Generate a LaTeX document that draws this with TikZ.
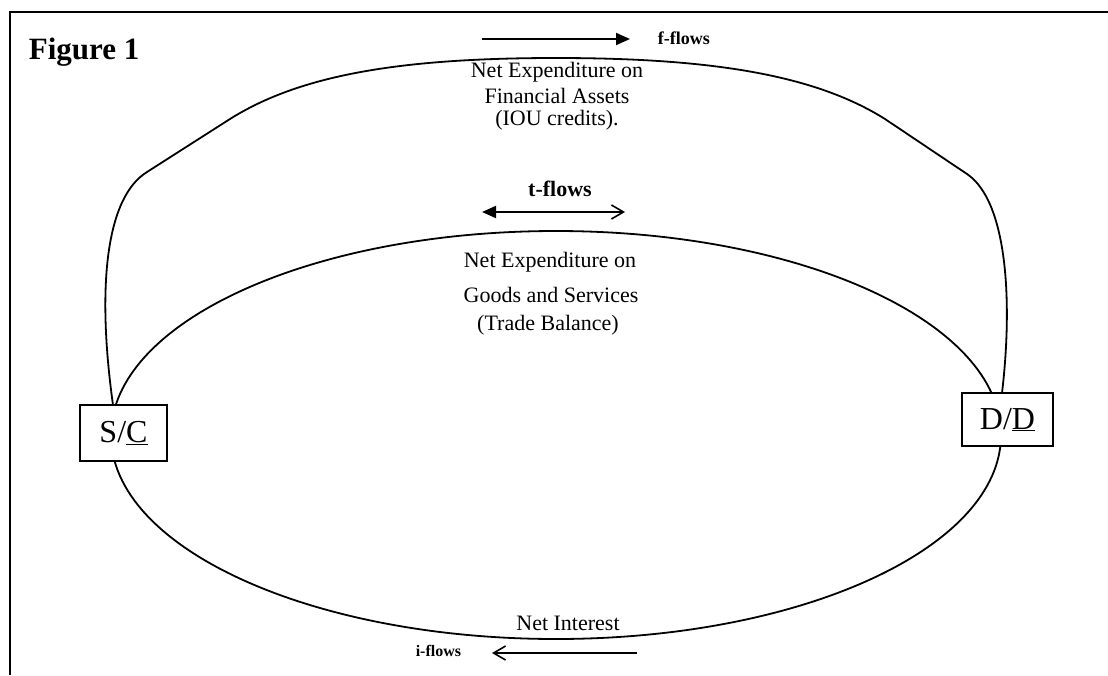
\documentclass[tikz,border=0pt]{standalone}
\usepackage{fontspec}
\setmainfont{Liberation Serif}
\usetikzlibrary{arrows.meta}
\begin{document}
\begin{tikzpicture}[x=1pt,y=-1pt,line width=1.8pt,
  lbl/.style={font=\fontsize{22}{26}\selectfont,inner sep=0pt},
  flowlbl/.style={font=\bfseries\fontsize{18}{20}\selectfont,inner sep=0pt},
  agent/.style={draw,fill=white,font=\fontsize{32}{36}\selectfont,inner sep=0pt,line width=1.8pt},
  fullhead/.tip={Triangle[length=14pt,width=12pt]},
  openhead/.tip={Straight Barb[length=12pt,width=14pt,line width=1.6pt]}]
\useasboundingbox (0,0) rectangle (1108,675);
\draw[line width=2pt] (10,675) -- (10,12) -- (1108,12);
\node[font=\bfseries\fontsize{31}{34}\selectfont,anchor=west,inner sep=0pt] (fig) at (28,52) {Figure 1};
% inner ellipse
\draw (556,435) ellipse [x radius=445,y radius=204];
% outer curve
\coordinate (o1) at (113,405);
\coordinate (o2) at (147,172);
\coordinate (o3) at (230,119);
\coordinate (o4) at (556,58);
\coordinate (o5) at (885,119);
\coordinate (o6) at (967,174);
\coordinate (o7) at (1002,393);
\draw (o1) .. controls (97,290) and (105,198) .. (o2) -- (o3)
      .. controls (300,75) and (400,58) .. (o4)
      .. controls (712,58) and (815,75) .. (o5) -- (o6)
      .. controls (1007,201) and (1013,300) .. (o7);
% agents
\node[agent,minimum width=87pt,minimum height=56pt] (sc) at (123.5,433) {S/\underline{C}};
\node[agent,minimum width=91pt,minimum height=53pt] (dd) at (1007.5,419.5) {D/\underline{D}};
% outer labels
\node[lbl] (fa1) at (557,72) {Net Expenditure on};
\node[lbl] (fa2) at (557,96) {Financial Assets};
\node[lbl] (fa3) at (557,120) {(IOU credits).};
% inner labels
\node[lbl] (gs1) at (550,262) {Net Expenditure on};
\node[lbl] (gs2) at (551,295) {Goods and Services};
\node[lbl] (gs3) at (548,325) {(Trade Balance)};
\node[lbl] (ni) at (568,623) {Net Interest};
% f-flows
\coordinate (f1) at (482,39);
\coordinate (f2) at (630,39);
\draw[-fullhead,line width=2pt] (f1) -- (f2);
\node[flowlbl,anchor=west] (ff) at (657,38) {f-flows};
% t-flows
\node[flowlbl,font=\bfseries\fontsize{22}{24}\selectfont] (tf) at (560,189) {t-flows};
\coordinate (t1) at (482,212);
\coordinate (t2) at (625,212);
\draw[fullhead-openhead,line width=2pt] (t1) -- (t2);
% i-flows
\coordinate (i1) at (637,653);
\coordinate (i2) at (492,653);
\draw[-openhead,line width=2pt] (i1) -- (i2);
\node[flowlbl,font=\bfseries\fontsize{16}{18}\selectfont,anchor=east] (if) at (462,651) {i-flows};
\end{tikzpicture}
\end{document}
